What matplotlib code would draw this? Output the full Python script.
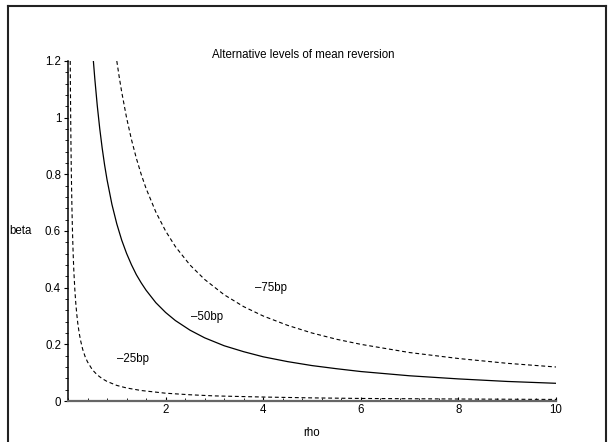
import matplotlib
matplotlib.use("Agg")
import matplotlib.pyplot as plt
from matplotlib.lines import Line2D
from matplotlib.ticker import MultipleLocator, FormatStrFormatter

plt.rcParams['font.family'] = ['Liberation Sans', 'DejaVu Sans']

# curves: rho -> beta
rho_25 = [0.046, 0.05, 0.055, 0.06, 0.065, 0.07, 0.08, 0.09, 0.1, 0.11, 0.12, 0.14,
          0.16, 0.18, 0.2, 0.23, 0.26, 0.3, 0.35, 0.4, 0.5, 0.6, 0.7, 0.8, 1.0, 1.2,
          1.5, 2, 2.5, 3, 4, 5, 6, 8, 10]
beta_25 = [1.2, 1.1, 1.0, 0.917, 0.846, 0.786, 0.688, 0.611, 0.55, 0.5, 0.458, 0.393,
           0.344, 0.306, 0.275, 0.239, 0.212, 0.183, 0.157, 0.138, 0.11, 0.092, 0.079,
           0.069, 0.055, 0.046, 0.037, 0.0275, 0.022, 0.018, 0.014, 0.011, 0.009,
           0.007, 0.0055]

rho_50 = [0.52, 0.55, 0.6, 0.65, 0.7, 0.75, 0.8, 0.9, 1.0, 1.1, 1.2, 1.3, 1.4, 1.5,
          1.6, 1.8, 2.0, 2.2, 2.5, 2.8, 3.2, 3.6, 4, 4.5, 5, 5.5, 6, 7, 8, 9, 10]
beta_50 = [1.2, 1.136, 1.042, 0.962, 0.893, 0.833, 0.781, 0.694, 0.625, 0.568, 0.521,
           0.481, 0.446, 0.417, 0.391, 0.347, 0.3125, 0.284, 0.25, 0.223, 0.195, 0.174,
           0.156, 0.139, 0.125, 0.114, 0.104, 0.089, 0.078, 0.069, 0.0625]

rho_75 = [1.0, 1.05, 1.1, 1.2, 1.3, 1.4, 1.5, 1.6, 1.8, 2.0, 2.2, 2.5, 2.8, 3.2, 3.6,
          4, 4.5, 5, 5.5, 6, 7, 8, 9, 10]
beta_75 = [1.2, 1.143, 1.091, 1.0, 0.923, 0.857, 0.8, 0.75, 0.667, 0.6, 0.545, 0.48,
           0.429, 0.375, 0.333, 0.3, 0.267, 0.24, 0.218, 0.2, 0.171, 0.15, 0.133, 0.12]

labels = ['\u201325bp', '\u201350bp', '\u201375bp']
label_rho = [1.01, 2.53, 3.83]
label_beta = [0.148, 0.298, 0.40]

FS = 8.3
W, H = 608, 442
fig = plt.figure(figsize=(W / 100, H / 100), dpi=100)
ax = fig.add_axes([68 / W, 1 - 401 / H, (556 - 68) / W, (401 - 61) / H])

ax.plot(rho_25, beta_25, color='black', lw=0.8, dashes=(3.5, 2.5))
ax.plot(rho_50, beta_50, color='black', lw=0.9)
ax.plot(rho_75, beta_75, color='black', lw=0.8, dashes=(3.5, 2.5))

for txt, x, y in zip(labels, label_rho, label_beta):
    ax.text(x, y, txt, fontsize=FS, ha='left', va='center')

ax.set_xlim(0, 10)
ax.set_ylim(0, 1.2)
for s in ('top', 'right'):
    ax.spines[s].set_visible(False)
ax.spines['left'].set_color('black')
ax.spines['left'].set_linewidth(1.1)
ax.spines['bottom'].set_color('#666666')
ax.spines['bottom'].set_linewidth(1.6)

ax.set_xticks([2, 4, 6, 8, 10])
ax.set_yticks([0, 0.2, 0.4, 0.6, 0.8, 1.0, 1.2])
ax.yaxis.set_major_formatter(FormatStrFormatter('%g'))
ax.xaxis.set_minor_locator(MultipleLocator(0.4))
ax.yaxis.set_minor_locator(MultipleLocator(0.04))
ax.tick_params(which='major', direction='out', length=3, width=0.8, labelsize=FS, pad=2)
ax.tick_params(which='minor', direction='out', length=2, width=0.6)
ax.tick_params(axis='x', which='both', direction='in')

fig.text(303 / W, 1 - 55 / H, 'Alternative levels of mean reversion', fontsize=FS,
         ha='center', va='center')
fig.text(9 / W, 1 - 231 / H, 'beta', fontsize=FS, ha='left', va='center')
fig.text(312 / W, 1 - 433 / H, 'rho', fontsize=FS, ha='center', va='center')

# window frame around the picture
for xs, ys in [((8, 8), (6, H)), ((8, 606), (6, 6)), ((606, 606), (6, H))]:
    fig.add_artist(Line2D([x / W for x in xs], [1 - y / H for y in ys],
                          color='#222222', lw=1.5, transform=fig.transFigure))

fig.savefig('out.png', dpi=100)
